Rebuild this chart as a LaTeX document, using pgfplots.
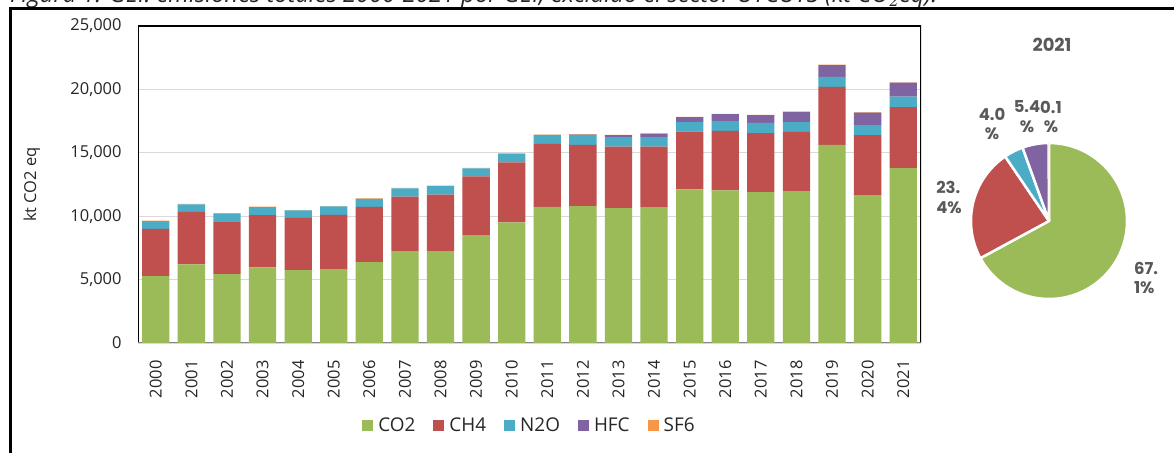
\documentclass[border=0pt]{standalone}
\usepackage{graphicx}
\usepackage{pgfplots}
\pgfplotsset{compat=1.18}
\usepackage{pgfplotstable}
\usepackage{fontspec}
\setmainfont{Open Sans}
\newfontfamily\pief{Poppins}
\definecolor{cco}{HTML}{9BBB59}
\definecolor{cch}{HTML}{C0504D}
\definecolor{cno}{HTML}{4BACC6}
\definecolor{chf}{HTML}{8064A2}
\definecolor{csf}{HTML}{F79646}
\definecolor{gridgray}{HTML}{D9D9D9}
\definecolor{axgray}{HTML}{868686}
\definecolor{txt}{HTML}{262626}
\definecolor{labgray}{HTML}{595959}

\pgfplotstableread{
year co2 ch4 n2o hfc sf6
2000 5270 3736 608 0 30
2001 6193 4156 585 0 30
2002 5427 4163 631 0 30
2003 5955 4133 630 0 30
2004 5743 4132 581 0 30
2005 5822 4290 662 0 30
2006 6375 4369 632 0 30
2007 7244 4290 662 0 30
2008 7244 4448 687 0 30
2009 8508 4636 632 0 30
2010 9510 4740 684 0 30
2011 10744 4953 711 0 30
2012 10799 4819 790 30 30
2013 10641 4843 743 158 30
2014 10720 4764 743 284 30
2015 12119 4550 743 395 30
2016 12040 4684 766 554 30
2017 11905 4638 813 609 30
2018 11984 4661 767 813 30
2019 15618 4582 790 925 30
2020 11668 4717 790 995 30
2021 13796 4811 822 1110 21
}\gei

\begin{document}
\begin{tikzpicture}
\useasboundingbox (0,0) rectangle (1174bp,453bp);
\clip (0,0) rectangle (1174bp,453bp);
\fill[white] (0,0) rectangle (1174bp,453bp);
% clipped caption at the very top
\node[anchor=base west, inner sep=0, text=txt] at (10bp,450.5bp)
  {\resizebox{927bp}{!}{\itshape Figura 1. GEI: emisiones totales 2000-2021 por GEI, excluido el sector UTCUTS (kt CO$_2$eq).}};
% outer frame
\draw[line width=3bp, line join=miter] (10bp,-10bp) -- (10bp,444.5bp) -- (1190bp,444.5bp);

\begin{axis}[
  at={(138bp,110bp)}, anchor=south west,
  width=783bp, height=317bp, scale only axis,
  ybar stacked, bar width=27.3bp,
  xmin=1999.5, xmax=2021.5, ymin=0, ymax=25000,
  xtick={2000,2001,...,2021},
  ytick={0,5000,10000,15000,20000,25000},
  scaled y ticks=false,
  ymajorgrids,
  grid style={color=gridgray, line width=1.3bp},
  major tick length=0pt,
  axis line style={draw=none},
  /pgf/number format/assume math mode=true,
  tick label style={font=\fontsize{16.5}{18}\selectfont, text=txt},
  x tick label style={rotate=90, anchor=east, /pgf/number format/1000 sep={}},
  xticklabel shift=14bp,
  y tick label style={/pgf/number format/1000 sep={,}},
  yticklabel shift=13bp,
  ylabel={kt CO2 eq},
  ylabel style={at={(axis description cs:-0.1354,0.5)}, anchor=center, font=\fontsize{16.5}{18}\selectfont, text=txt},
  legend style={at={(0.5,-0.259)}, anchor=center, draw=none, fill=none,
    font=\fontsize{19}{21}\selectfont, text=txt,
    /tikz/every even column/.append style={column sep=16bp},
    /tikz/every odd column/.append style={column sep=3bp},
    inner sep=0pt},
  legend columns=-1,
  legend image code/.code={\fill[#1,draw=none] (0bp,-5.5bp) rectangle (11bp,5.5bp);},
]
\addplot[fill=cco, draw=none] table[x=year,y=co2] {\gei};
\addplot[fill=cch, draw=none] table[x=year,y=ch4] {\gei};
\addplot[fill=cno, draw=none] table[x=year,y=n2o] {\gei};
\addplot[fill=chf, draw=none] table[x=year,y=hfc] {\gei};
\addplot[fill=csf, draw=none] table[x=year,y=sf6] {\gei};
\legend{CO2,CH4,N2O,HFC,SF6}
\draw[axgray, line width=1.5bp] (rel axis cs:0,0) -- (rel axis cs:1,0);
\draw[black, line width=2.6bp, line join=miter] (rel axis cs:0,0) -- (rel axis cs:0,1) -- (rel axis cs:1,1) -- (rel axis cs:1,-0.006);
\end{axis}

% pie chart for 2021 (shares in percent: 67.1, 23.4, 4.0, 5.4, 0.1)
\begin{axis}[
  at={(1049bp,232bp)}, anchor=center,
  width=156bp, height=156bp, scale only axis,
  xmin=-1, xmax=1, ymin=-1, ymax=1,
  hide axis, clip=false,
]
\filldraw[fill=cco, draw=white, line width=2.5bp, line join=round] (axis cs:0,0) -- ++(90:78bp) arc[start angle=90, end angle=-151.56, radius=78bp] -- cycle;
\filldraw[fill=cch, draw=white, line width=2.5bp, line join=round] (axis cs:0,0) -- ++(-151.56:78bp) arc[start angle=-151.56, end angle=-235.80, radius=78bp] -- cycle;
\filldraw[fill=cno, draw=white, line width=2.5bp, line join=round] (axis cs:0,0) -- ++(-235.80:78bp) arc[start angle=-235.80, end angle=-250.20, radius=78bp] -- cycle;
\filldraw[fill=chf, draw=white, line width=2.5bp, line join=round] (axis cs:0,0) -- ++(-250.20:78bp) arc[start angle=-250.20, end angle=-269.64, radius=78bp] -- cycle;
\filldraw[fill=csf, draw=white, line width=0.5bp] (axis cs:0,0) -- ++(-269.64:78bp) arc[start angle=-269.64, end angle=-270, radius=78bp] -- cycle;
\end{axis}

\begin{scope}[every node/.style={text=labgray, inner sep=0pt, font=\pief\bfseries\fontsize{16.5}{20}\selectfont}]
\node at (1052bp,408bp) {\fontsize{18}{20}\selectfont 2021};
\node[align=left] at (1146bp,175bp) {67.\\1\%};
\node[align=left] at (949bp,256bp) {23.\\4\%};
\node[align=center] at (992bp,329bp) {4.0\\\%};
\node[align=center] at (1027bp,336bp) {5.4\\\%};
\node[align=center] at (1051bp,336bp) {0.1\\\%};
\end{scope}
\end{tikzpicture}
\end{document}
